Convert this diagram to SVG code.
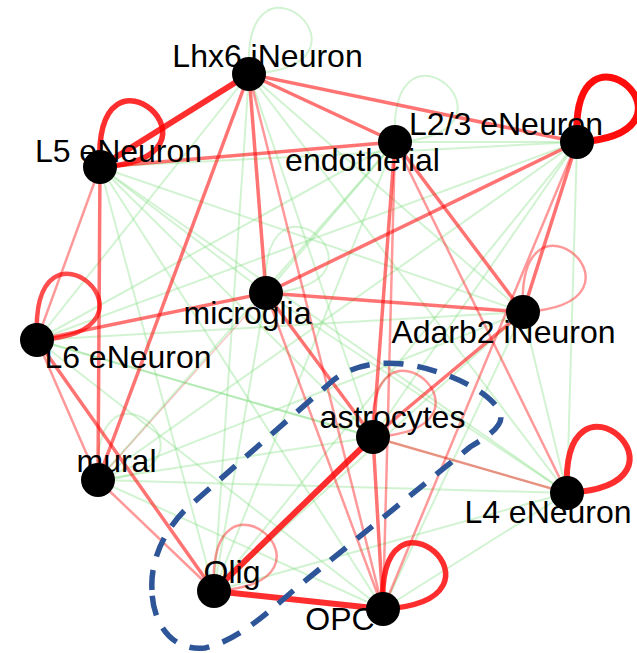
<svg xmlns="http://www.w3.org/2000/svg" width="637" height="653" viewBox="0 0 637 653">
<style>
line,path{fill:none;stroke-linecap:round}
.g{stroke:#7fdc7f;stroke-opacity:0.35;stroke-width:2}
.gl{stroke:#7fdc7f;stroke-opacity:0.35;stroke-width:2}
.r1{stroke:#ff0000;stroke-opacity:0.82;stroke-width:6}
.r2{stroke:#ff0000;stroke-opacity:0.55;stroke-width:3.5}
.r3{stroke:#ff0000;stroke-opacity:0.4;stroke-width:2.5}
.r4{stroke:#e05050;stroke-opacity:0.3;stroke-width:1.5}
.hull{fill:none;stroke:#2d5597;stroke-width:5.5;stroke-dasharray:20 14;stroke-linecap:butt}
circle{fill:#000}
text{font-family:"Liberation Sans",Arial,sans-serif;font-size:32px;fill:#000;text-anchor:middle}
</style>
<rect width="637" height="653" fill="#fff"/>
<g id="connectors">
<!-- green edges -->
<line class="g" x1="249" y1="74" x2="37" y2="340"/>
<line class="g" x1="249" y1="74" x2="523" y2="312"/>
<line class="g" x1="249" y1="74" x2="373" y2="437"/>
<line class="g" x1="249" y1="74" x2="567" y2="493"/>
<line class="g" x1="249" y1="74" x2="214" y2="591"/>
<line class="g" x1="100" y1="167" x2="577" y2="142"/>
<line class="g" x1="100" y1="167" x2="266" y2="293"/>
<line class="g" x1="100" y1="167" x2="523" y2="312"/>
<line class="g" x1="100" y1="167" x2="373" y2="437"/>
<line class="g" x1="100" y1="167" x2="567" y2="493"/>
<line class="g" x1="100" y1="167" x2="214" y2="591"/>
<line class="g" x1="100" y1="167" x2="383" y2="609"/>
<line class="g" x1="395" y1="142" x2="577" y2="142"/>
<line class="g" x1="395" y1="142" x2="266" y2="293"/>
<line class="g" x1="395" y1="142" x2="37" y2="340"/>
<line class="g" x1="395" y1="142" x2="98" y2="480"/>
<line class="g" x1="395" y1="142" x2="214" y2="591"/>
<line class="g" x1="577" y1="142" x2="37" y2="340"/>
<line class="g" x1="577" y1="142" x2="373" y2="437"/>
<line class="g" x1="577" y1="142" x2="98" y2="480"/>
<line class="g" x1="577" y1="142" x2="567" y2="493"/>
<line class="g" x1="577" y1="142" x2="214" y2="591"/>
<line class="g" x1="266" y1="293" x2="567" y2="493"/>
<line class="g" x1="266" y1="293" x2="214" y2="591"/>
<line class="g" x1="37" y1="340" x2="523" y2="312"/>
<line class="g" x1="37" y1="340" x2="373" y2="437"/>
<line class="g" x1="37" y1="340" x2="567" y2="493"/>
<line class="g" x1="37" y1="340" x2="383" y2="609"/>
<line class="g" x1="523" y1="312" x2="98" y2="480"/>
<line class="g" x1="523" y1="312" x2="567" y2="493"/>
<line class="g" x1="523" y1="312" x2="214" y2="591"/>
<line class="g" x1="523" y1="312" x2="383" y2="609"/>
<line class="g" x1="373" y1="437" x2="98" y2="480"/>
<line class="g" x1="98" y1="480" x2="567" y2="493"/>
<line class="g" x1="98" y1="480" x2="383" y2="609"/>
<line class="g" x1="567" y1="493" x2="214" y2="591"/>
<line class="g" x1="567" y1="493" x2="383" y2="609"/>
<!-- green loops -->
<path class="gl" d="M249 74 C241 -71 394 66 249 74"/>
<path class="gl" d="M395 142 C387 -3 540 134 395 142"/>
<path class="gl" d="M266 293 C258 148 411 285 266 293"/>
<path class="gl" d="M98 480 C90 335 243 472 98 480"/>
<!-- red edges -->
<line class="r4" x1="98" y1="480" x2="266" y2="293"/>
<line class="r3" x1="100" y1="167" x2="37" y2="340"/>
<line class="r3" x1="395" y1="142" x2="567" y2="493"/>
<line class="r3" x1="395" y1="142" x2="383" y2="609"/>
<line class="r3" x1="577" y1="142" x2="383" y2="609"/>
<line class="r3" x1="266" y1="293" x2="383" y2="609"/>
<line class="r3" x1="249" y1="74" x2="383" y2="609"/>
<line class="r3" x1="373" y1="437" x2="567" y2="493"/>
<line class="r3" x1="98" y1="480" x2="214" y2="591"/>
<line class="r3" x1="37" y1="340" x2="98" y2="480"/>
<line class="r2" x1="37" y1="340" x2="214" y2="591"/>
<line class="r2" x1="249" y1="74" x2="395" y2="142"/>
<line class="r2" x1="249" y1="74" x2="577" y2="142"/>
<line class="r2" x1="249" y1="74" x2="266" y2="293"/>
<line class="r2" x1="249" y1="74" x2="98" y2="480"/>
<line class="r2" x1="100" y1="167" x2="395" y2="142"/>
<line class="r2" x1="100" y1="167" x2="98" y2="480"/>
<line class="r2" x1="395" y1="142" x2="523" y2="312"/>
<line class="r2" x1="395" y1="142" x2="373" y2="437"/>
<line class="r2" x1="577" y1="142" x2="266" y2="293"/>
<line class="r2" x1="577" y1="142" x2="523" y2="312"/>
<line class="r2" x1="266" y1="293" x2="37" y2="340"/>
<line class="r2" x1="266" y1="293" x2="523" y2="312"/>
<line class="r2" x1="266" y1="293" x2="373" y2="437"/>
<line class="r2" x1="523" y1="312" x2="373" y2="437"/>
<line class="r2" x1="373" y1="437" x2="383" y2="609"/>
<line class="r1" x1="249" y1="74" x2="100" y2="167"/>
<line class="r1" x1="373" y1="437" x2="214" y2="591"/>
<line class="r1" x1="214" y1="591" x2="383" y2="609"/>
<!-- red loops -->
<path class="r3" d="M523 312 C515 167 668 304 523 312"/>
<path class="r3" d="M373 437 C365 292 518 429 373 437"/>
<path class="r3" d="M214 591 C206 446 359 583 214 591"/>
<path class="r2" d="M37 340 C29 195 182 332 37 340" style="stroke-opacity:0.7;stroke-width:4.5"/>
<path class="r1" d="M100 167 C92 22 245 159 100 167" style="stroke-width:5.5"/>
<path class="r1" d="M577 142 C569 0 719 134 577 142" style="stroke-width:7;stroke-opacity:0.95"/>
<path class="r1" d="M567 493 C559 348 712 485 567 493"/>
<path class="r1" d="M383 609 C375 464 528 601 383 609" style="stroke-width:5.5"/>
</g>
<path class="hull" d="M152 590 C150 560 165 530 185 510 L330 383 C350 365 380 360 410 365 C450 372 490 392 500 412 C505 425 490 435 470 447 L300 585 C270 610 240 640 205 648 C170 652 152 620 152 590 Z"/>
<g id="Lhx6"><circle cx="249" cy="74" r="17"/><text x="267.5" y="67">Lhx6 iNeuron</text></g>
<g id="L5"><circle cx="100" cy="167" r="17"/><text x="118.5" y="162">L5 eNeuron</text></g>
<g id="endothelial"><circle cx="395" cy="142" r="17"/><text x="362.5" y="171">endothelial</text></g>
<g id="L23"><circle cx="577" cy="142" r="17"/><text x="506" y="135">L2/3 eNeuron</text></g>
<g id="microglia"><circle cx="266" cy="293" r="17"/><text x="247.5" y="324">microglia</text></g>
<g id="L6"><circle cx="37" cy="340" r="17"/><text x="128" y="368">L6 eNeuron</text></g>
<g id="Adarb2"><circle cx="523" cy="312" r="17"/><text x="503.5" y="343">Adarb2 iNeuron</text></g>
<g id="astrocytes"><circle cx="373" cy="437" r="17"/><text x="392.5" y="428">astrocytes</text></g>
<g id="mural"><circle cx="98" cy="480" r="17"/><text x="116.5" y="472">mural</text></g>
<g id="L4"><circle cx="567" cy="493" r="17"/><text x="548" y="523">L4 eNeuron</text></g>
<g id="Olig"><circle cx="214" cy="591" r="17"/><text x="232" y="583">Olig</text></g>
<g id="OPC"><circle cx="383" cy="609" r="17"/><text x="340" y="630">OPC</text></g>
</svg>
